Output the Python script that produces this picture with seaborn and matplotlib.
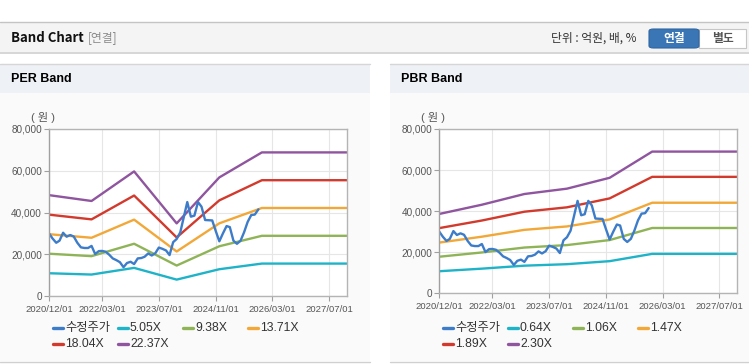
import pandas as pd
import matplotlib
matplotlib.use("Agg")
import matplotlib.pyplot as plt
from matplotlib.patches import Rectangle, FancyBboxPatch
from matplotlib.lines import Line2D
import seaborn as sns

sns.set_theme(style="white")
plt.rcParams['font.family'] = ['Liberation Sans', 'Noto Sans CJK KR', 'DejaVu Sans']

W, H = 749, 364

# adjusted share price, monthly from 2020/12
price_start = "2020-12-01"
price = [30000, 27500, 25500, 26500, 30300, 28400, 29200, 28500, 25500, 23300,
         23000, 23000, 24000, 20100, 21500, 21600, 21200, 19800, 18000, 17200,
         16200, 13800, 15800, 16400, 15300, 18000, 18200, 18800, 20400, 19400,
         20500, 23200, 22600, 21800, 19600, 25800, 27300, 30500, 38000, 45000,
         38000, 38500, 45000, 42800, 36400, 36300, 36200, 31000, 26200, 30000,
         33500, 33000, 26500, 25000, 26500, 30500, 35500, 38800, 39000, 41500]
price_label = "수정주가"

band_dates = ["2020-12-01", "2021-12-01", "2022-12-01", "2023-12-01",
              "2024-12-01", "2025-12-01", "2027-12-01"]

per_labels = ["5.05X", "9.38X", "13.71X", "18.04X", "22.37X"]
per_505 = [10900, 10280, 13470, 7850, 12830, 15530, 15530]
per_938 = [20260, 19090, 25030, 14590, 23830, 28840, 28840]
per_1371 = [29610, 27900, 36580, 21320, 34820, 42160, 42160]
per_1804 = [38970, 36710, 48130, 28050, 45820, 55470, 55470]
per_2237 = [48320, 45520, 59680, 34790, 56820, 68790, 68790]

pbr_labels = ["0.64X", "1.06X", "1.47X", "1.89X", "2.30X"]
pbr_064 = [10750, 12000, 13450, 14180, 15650, 19200, 19200]
pbr_106 = [17810, 19880, 22280, 23480, 25920, 31800, 31800]
pbr_147 = [24700, 27560, 30900, 32560, 35940, 44100, 44100]
pbr_189 = [31750, 35440, 39730, 41860, 46210, 56700, 56700]
pbr_230 = [38640, 43130, 48350, 50950, 56240, 69000, 69000]

tick_dates = ["2020-12-01", "2022-03-01", "2023-07-01", "2024-11-01",
              "2026-03-01", "2027-07-01"]
y_ticks = [0, 20000, 40000, 60000, 80000]

price_color = "#3d7cc9"
band_colors = ["#1fb3c8", "#8fb457", "#f2a838", "#d13a2d", "#8f559e"]


def fx(x):
    return x / W


def fy(y):
    return 1 - y / H


fig = plt.figure(figsize=(W / 100, H / 100), dpi=100)
fig.patch.set_facecolor("white")


def box(x0, y0, x1, y1, **kw):
    fig.add_artist(Rectangle((fx(x0), fy(y1)), (x1 - x0) / W, (y1 - y0) / H,
                             transform=fig.transFigure, zorder=-2, **kw))


def hline(y, x0, x1, color, lw=1.0):
    fig.add_artist(Line2D([fx(x0), fx(x1)], [fy(y), fy(y)],
                          transform=fig.transFigure, color=color, lw=lw,
                          zorder=-1))


# top header bar
box(0, 22, W, 52, facecolor="#f4f4f4", edgecolor="none")
hline(22, 0, W, "#c4c4c4")
hline(52.5, 0, W, "#d0d0d0", lw=1.2)
fig.text(fx(11), fy(38), "Band Chart", fontsize=9.5, fontweight="bold",
         color="#111", va="center", family=['Noto Sans CJK KR', 'DejaVu Sans'])
fig.text(fx(88), fy(38), "[연결]", fontsize=8.5, color="#8a8a8a", va="center",
         family=['Noto Sans CJK KR', 'DejaVu Sans'])
fig.text(fx(551), fy(38.5), "단위 : 억원, 배, %", fontsize=8.5, color="#333",
         va="center", family=['Noto Sans CJK KR', 'DejaVu Sans'])
fig.add_artist(FancyBboxPatch((fx(649), fy(48)), 50 / W, 19 / H,
                              boxstyle="round,pad=0,rounding_size=0.006",
                              transform=fig.transFigure, facecolor="#3a76b6",
                              edgecolor="#2f65a0", lw=0.8))
box(699, 29, 746, 48, facecolor="white", edgecolor="#c6c6c6", lw=0.8)
fig.text(fx(674), fy(38.5), "연결", fontsize=8.5, color="white", fontweight="bold",
         ha="center", va="center", family=['Noto Sans CJK KR', 'DejaVu Sans'])
fig.text(fx(722.5), fy(38.5), "별도", fontsize=8.5, color="#555", fontweight="bold",
         ha="center", va="center", family=['Noto Sans CJK KR', 'DejaVu Sans'])

# panels
for x0, x1, title in [(0, 370, "PER Band"), (390, W, "PBR Band")]:
    box(x0, 93, x1, 361, facecolor="#fafafa", edgecolor="none")
    box(x0, 64, x1, 93, facecolor="#eef1f5", edgecolor="none")
    hline(64, x0, x1, "#d6d6d6")
    hline(361.5, x0, x1, "#d0d0d0")
    fig.text(fx(x0 + 11), fy(79.5), title, fontsize=9, fontweight="bold",
             color="#000", va="center")

price_dates = pd.date_range(price_start, periods=len(price), freq="MS")


def band_panel(rect, bands, labels, leg_x):
    ax = fig.add_axes(rect)
    ax.set_zorder(2)
    ax.set_facecolor("white")
    dates = pd.to_datetime(band_dates)
    for vals, col in zip(bands, band_colors):
        sns.lineplot(x=dates, y=vals, ax=ax, color=col, lw=1.7, legend=False)
    sns.lineplot(x=price_dates, y=price, ax=ax, color=price_color, lw=1.7,
                 legend=False)
    ax.set_xlim(pd.Timestamp("2020-12-01"), pd.Timestamp("2027-12-01"))
    ax.set_ylim(0, 80000)
    ax.set_xticks(pd.to_datetime(tick_dates))
    ax.set_xticklabels([d.replace("-", "/") for d in tick_dates])
    ax.set_yticks(y_ticks)
    ax.set_yticklabels([f"{v:,}" for v in y_ticks])
    ax.set_xlabel("")
    ax.set_ylabel("")
    ax.grid(True, color="#e6e6e6", lw=0.8)
    for s in ax.spines.values():
        s.set_color("#b4b4b4")
        s.set_linewidth(1)
    ax.spines["left"].set_color("#a0a0a0")
    ax.tick_params(axis="y", length=3.5, width=0.8, color="#a0a0a0",
                   labelsize=7.2, labelcolor="#555", pad=1.5, left=True)
    ax.tick_params(axis="x", length=3.5, width=0.8, color="#a0a0a0",
                   labelsize=6.8, labelcolor="#555", pad=3, bottom=True)

    # unit label
    fig.text(fx(rect[0] * W - 6), fy(118), "( 원 )", fontsize=8, color="#555",
             ha="center", va="center")

    # legend, row by row
    names = [price_label] + labels
    cols = [price_color] + band_colors
    for i, (name, col) in enumerate(zip(names, cols)):
        x = leg_x + (i % 4) * 65
        y = 328 + (i // 4) * 16
        fig.add_artist(Line2D([fx(x), fx(x + 10)], [fy(y), fy(y)],
                              transform=fig.transFigure, color=col, lw=2.4))
        fig.text(fx(x + 12), fy(y), name, fontsize=8.8, color="#333",
                 va="center")
    return ax


band_panel([49 / W, 1 - 296 / H, 298 / W, 167 / H],
           [per_505, per_938, per_1371, per_1804, per_2237], per_labels, 53)
band_panel([439.3 / W, 1 - 293.3 / H, 298 / W, 164.3 / H],
           [pbr_064, pbr_106, pbr_147, pbr_189, pbr_230], pbr_labels, 443)

fig.savefig("out.png", dpi=100)
